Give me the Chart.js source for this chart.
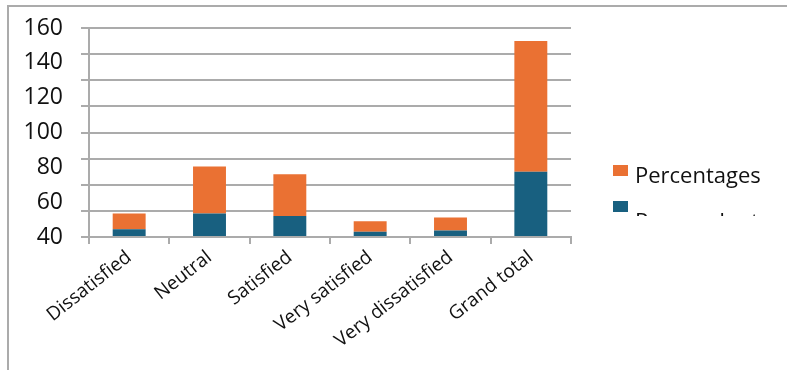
<!DOCTYPE html>
<html>
<head>
<meta charset="utf-8">
<script src="https://cdn.jsdelivr.net/npm/chart.js@4"></script>
<style>
  body { margin: 0; background: #fff; }
  #wrap { position: relative; width: 787px; height: 370px; overflow: hidden; }
  #frame { position: absolute; left: 7px; top: 5px; right: 0; bottom: 0;
           border-top: 2px solid #ababab; border-left: 2px solid #ababab; }
  #chart { position: absolute; left: 0; top: 0; }
  #legend { position: absolute; left: 613px; top: 160px; width: 174px; height: 56px;
            overflow: hidden; font-family: "Open Sans", sans-serif; font-size: 22px;
            line-height: 1; color: #111; }
  .item { height: 36px; position: relative; }
  .box { position: absolute; left: 0; top: 5px; width: 15px; height: 11px; }
  .lbl { position: absolute; left: 22px; white-space: nowrap; }
</style>
</head>
<body>
<div id="wrap">
  <div id="frame"></div>
  <canvas id="chart" width="787" height="370"></canvas>
  <div id="legend"></div>
</div>
<script>
// Datos del gráfico
const categories = ['Dissatisfied', 'Neutral', 'Satisfied', 'Very satisfied', 'Very dissatisfied', 'Grand total'];
const respondents = [6, 18, 16, 4, 5, 50];
const percentages = [12, 36, 32, 8, 10, 100];
const tickLabels = ['40', '60', '80', '100', '120', '140', '160'];

const blue = '#186080';
const orange = '#EA7133';
const gridColor = '#ababab';

const ctx = document.getElementById('chart').getContext('2d');
const chart = new Chart(ctx, {
    type: 'bar',
    data: {
        labels: categories,
        datasets: [
            { label: 'Respondents', data: respondents, backgroundColor: blue },
            { label: 'Percentages', data: percentages, backgroundColor: orange }
        ]
    },
    options: {
        responsive: false,
        animation: false,
        layout: { padding: { top: 28, right: 216, left: 0, bottom: 0 } },
        plugins: { legend: { display: false }, tooltip: { enabled: false } },
        datasets: { bar: { barPercentage: 1, categoryPercentage: 0.41 } },
        scales: {
            x: {
                stacked: true,
                grid: { offset: true, drawOnChartArea: false, tickLength: 7, color: gridColor, lineWidth: 2 },
                border: { color: gridColor, width: 2 },
                ticks: {
                    minRotation: 38, maxRotation: 38, padding: 2,
                    color: '#111',
                    font: { family: 'Open Sans', size: 19 }
                },
                afterFit: function(scale) { scale.height = 133; }
            },
            y: {
                stacked: true,
                min: 0, max: 160,
                weight: 0,
                ticks: { display: false, stepSize: 20 },
                grid: { color: gridColor, lineWidth: 2, tickLength: 8 },
                border: { color: gridColor, width: 2 },
                afterFit: function(scale) { scale.width = 8; }
            },
            y2: {
                position: 'left',
                weight: 1,
                min: 40, max: 160,
                grid: { display: false },
                border: { display: false },
                ticks: {
                    stepSize: 20, padding: 10, color: '#111',
                    font: { family: 'Open Sans', size: 23 },
                    callback: function(value) {
                        const s = String(value);
                        return tickLabels.includes(s) ? s : '';
                    }
                },
                afterFit: function(scale) { scale.width = 81; }
            }
        }
    }
});

// Leyenda en HTML (orden inverso, como en el original; la segunda queda recortada)
const legend = document.getElementById('legend');
chart.data.datasets.slice().reverse().forEach((ds, i) => {
    const item = document.createElement('div');
    item.className = 'item';
    item.innerHTML = '<span class="box" style="background:' + ds.backgroundColor + '"></span>' +
                     '<span class="lbl" style="top:' + (3 + i * 10) + 'px">' + ds.label + '</span>';
    legend.appendChild(item);
});
</script>
</body>
</html>
